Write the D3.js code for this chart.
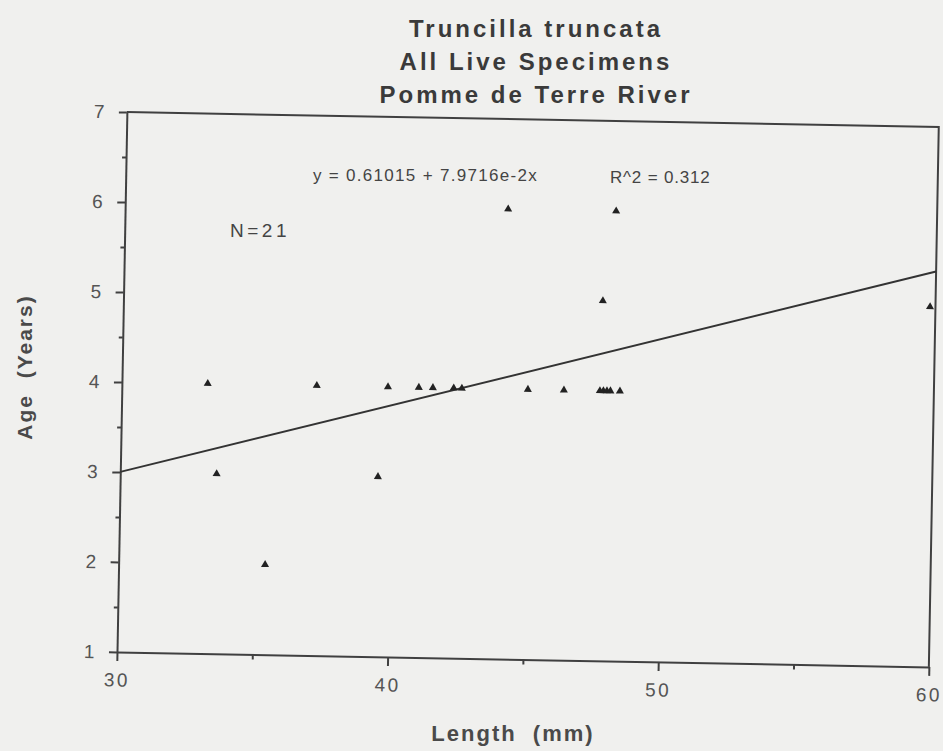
<!DOCTYPE html>
<html><head><meta charset="utf-8">
<script src="https://cdn.jsdelivr.net/npm/d3@7"></script>
<style>body{margin:0;background:#f0f0ee} svg{display:block} text{white-space:pre}</style>
</head><body><svg id="c" width="943" height="751"></svg>
<script>
// ---- data ----
const titleLines = ["Truncilla truncata", "All Live Specimens", "Pomme de Terre River"];
const lengthMM = [33.17, 33.56, 35.41, 37.20, 39.52, 39.83, 40.97, 41.49, 42.26, 42.56,
                  44.15, 45.00, 46.33, 47.66, 47.79, 47.92, 48.05, 48.40, 47.71, 48.14, 59.80];
const ageYears = [4, 3, 2, 4, 3, 4, 4, 4, 4, 4,
                  6, 4, 4, 4, 4, 4, 4, 4, 5, 6, 5];
const xTicks = [30, 40, 50, 60];
const xMinorTicks = [35, 45, 55];
const yTicks = [1, 2, 3, 4, 5, 6, 7];
const yMinorTicks = [1.5, 2.5, 3.5, 4.5, 5.5, 6.5];
const fitIntercept = 0.61015;
const fitSlope = 0.079716;
const equationLabel = "y = 0.61015 + 7.9716e-2x";
const r2Label = "R^2 = 0.312";
const nLabel = "N=21";
const xLabel = "Length  (mm)";
const yLabel = "Age  (Years)";

// ---- drawing ----
const svg = d3.select("#c");
svg.append("rect").attr("width", 943).attr("height", 751).attr("fill", "#f0f0ee");

const W = 812, H = 540;
const x = d3.scaleLinear().domain([30, 60]).range([0, W]);
const y = d3.scaleLinear().domain([1, 7]).range([0, -H]);
const ink = "#3a3a3a";
const font = "Liberation Sans, Arial, sans-serif";

// titles
svg.append("g").selectAll("text").data(titleLines).join("text")
  .attr("x", 536).attr("y", (d, i) => 37 + i * 33)
  .attr("text-anchor", "middle")
  .attr("font-family", font).attr("font-weight", "bold")
  .attr("font-size", 24).attr("letter-spacing", 3)
  .attr("fill", ink).text(d => d);

const g = svg.append("g").attr("transform", "translate(117,652) rotate(1.05)");

function styleAxis(sel) {
  sel.selectAll("path,line").attr("stroke", "#404040").attr("stroke-width", 2);
  sel.selectAll("text").attr("font-family", font).attr("font-size", 19)
    .attr("letter-spacing", 2.5).attr("fill", "#555");
}

// x axis
const xAx = g.append("g").call(d3.axisBottom(x).tickValues(xTicks).tickSize(9).tickSizeOuter(0).tickPadding(12));
styleAxis(xAx);
const xMin = g.append("g").call(d3.axisBottom(x).tickValues(xMinorTicks).tickSize(5).tickFormat(""));
styleAxis(xMin); xMin.select(".domain").remove();

// y axis
const yAx = g.append("g").call(d3.axisLeft(y).tickValues(yTicks).tickFormat(d3.format("d")).tickSize(8).tickSizeOuter(0).tickPadding(12));
styleAxis(yAx);
const yMin = g.append("g").call(d3.axisLeft(y).tickValues(yMinorTicks).tickSize(4).tickFormat(""));
styleAxis(yMin); yMin.select(".domain").remove();

// frame top and right
g.append("path")
  .attr("d", `M${x(30)},${y(7)}H${x(60)}V${y(1)}`)
  .attr("fill", "none").attr("stroke", "#404040").attr("stroke-width", 2);

// regression line
g.append("line")
  .attr("x1", x(30)).attr("y1", y(fitIntercept + fitSlope * 30))
  .attr("x2", x(60)).attr("y2", y(fitIntercept + fitSlope * 60))
  .attr("stroke", "#333").attr("stroke-width", 2);

// points
const pts = lengthMM.map((v, i) => [v, ageYears[i]]);
g.append("g").selectAll("path").data(pts).join("path")
  .attr("transform", d => `translate(${x(d[0])},${y(d[1])})`)
  .attr("d", d3.symbol(d3.symbolTriangle, 28))
  .attr("fill", "#222");

// annotations
svg.append("text").attr("x", 313).attr("y", 181)
  .attr("font-family", font).attr("font-size", 17).attr("letter-spacing", 1.3)
  .attr("fill", "#444").text(equationLabel);
svg.append("text").attr("x", 610).attr("y", 183)
  .attr("font-family", font).attr("font-size", 17).attr("letter-spacing", 0.8)
  .attr("fill", "#444").text(r2Label);
svg.append("text").attr("x", 230).attr("y", 237)
  .attr("font-family", font).attr("font-size", 19).attr("letter-spacing", 3.5)
  .attr("fill", "#444").text(nLabel);

// axis titles
svg.append("text").attr("x", 513).attr("y", 741).attr("text-anchor", "middle")
  .attr("font-family", font).attr("font-weight", "bold").attr("font-size", 22)
  .attr("letter-spacing", 2).attr("fill", "#4a4a4a").text(xLabel);
svg.append("text").attr("transform", "translate(32,367) rotate(-90)").attr("text-anchor", "middle")
  .attr("font-family", font).attr("font-weight", "bold").attr("font-size", 21)
  .attr("letter-spacing", 2).attr("fill", "#4a4a4a").text(yLabel);
</script>
</body></html>
